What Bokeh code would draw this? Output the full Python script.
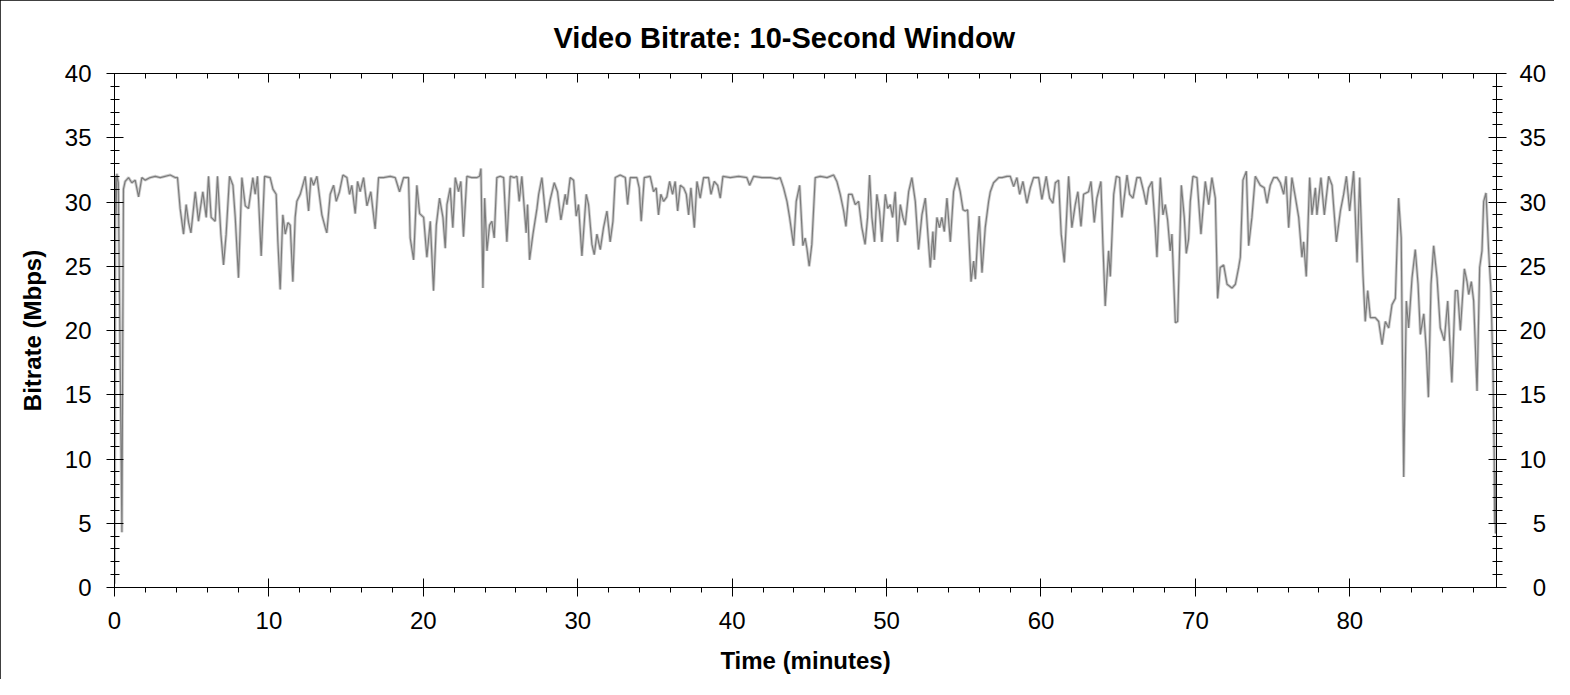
from bokeh.plotting import figure
from bokeh.models import LinearAxis, Range1d, SingleIntervalTicker, PrintfTickFormatter
from bokeh.embed import file_html
from bokeh.resources import INLINE

# Time (minutes) and bitrate (Mbps)
time_min = [0.00, 0.05, 0.10, 0.15, 0.25, 0.48, 0.58, 0.69, 0.91, 1.12, 1.34, 1.56, 1.77, 1.99, 2.31,
            2.64, 2.96, 3.28, 3.61, 3.93, 4.08, 4.25, 4.47, 4.64, 4.80, 4.95, 5.23, 5.44, 5.72, 5.94,
            6.09, 6.26, 6.52, 6.67, 6.89, 7.06, 7.23, 7.45, 7.67, 7.82, 8.03, 8.25, 8.47, 8.68, 8.96,
            9.11, 9.26, 9.50, 9.72, 10.08, 10.26, 10.47, 10.58, 10.73, 10.90, 11.06, 11.23, 11.38, 11.55, 11.70,
            11.81, 12.03, 12.35, 12.57, 12.72, 12.89, 13.11, 13.43, 13.65, 13.75, 13.97, 14.19, 14.36, 14.57, 14.79,
            15.05, 15.22, 15.37, 15.59, 15.74, 15.91, 16.13, 16.35, 16.60, 16.88, 17.10, 17.42, 17.86, 18.18, 18.46,
            18.72, 19.04, 19.15, 19.37, 19.58, 19.76, 20.02, 20.23, 20.45, 20.66, 20.84, 21.05, 21.27, 21.42, 21.53,
            21.74, 21.91, 22.07, 22.28, 22.43, 22.60, 22.82, 23.14, 23.47, 23.64, 23.73, 23.86, 23.97, 24.12, 24.29,
            24.44, 24.59, 24.76, 24.98, 25.20, 25.41, 25.63, 25.89, 26.06, 26.21, 26.38, 26.66, 26.75, 26.88, 27.10,
            27.36, 27.47, 27.68, 27.96, 28.22, 28.48, 28.69, 28.91, 29.19, 29.30, 29.51, 29.73, 29.90, 30.05, 30.27,
            30.55, 30.70, 30.92, 31.07, 31.24, 31.46, 31.67, 31.89, 32.10, 32.28, 32.43, 32.75, 33.08, 33.23, 33.40,
            33.83, 33.98, 34.11, 34.31, 34.69, 34.91, 35.08, 35.23, 35.38, 35.56, 35.77, 35.95, 36.14, 36.31, 36.47,
            36.64, 36.86, 37.03, 37.18, 37.33, 37.55, 37.72, 37.93, 38.15, 38.47, 38.63, 38.84, 39.06, 39.23, 39.40,
            39.88, 40.42, 40.95, 41.13, 41.39, 41.93, 42.47, 42.90, 43.11, 43.33, 43.55, 43.72, 43.98, 44.15, 44.37,
            44.58, 44.73, 44.84, 44.99, 45.16, 45.38, 45.71, 46.14, 46.57, 46.78, 47.00, 47.22, 47.37, 47.54, 47.76,
            47.97, 48.19, 48.40, 48.61, 48.77, 48.90, 49.05, 49.22, 49.37, 49.54, 49.70, 49.92, 50.07, 50.24, 50.39,
            50.56, 50.71, 50.89, 51.06, 51.21, 51.43, 51.64, 51.86, 52.07, 52.29, 52.51, 52.83, 53.00, 53.09, 53.26,
            53.43, 53.58, 53.74, 53.91, 54.13, 54.34, 54.56, 54.77, 54.95, 55.10, 55.25, 55.47, 55.64, 55.75, 55.90,
            56.00, 56.18, 56.39, 56.61, 56.72, 56.93, 57.26, 57.47, 57.80, 58.01, 58.23, 58.44, 58.62, 58.83, 59.09,
            59.31, 59.52, 59.85, 60.06, 60.34, 60.56, 60.77, 60.93, 61.14, 61.31, 61.51, 61.79, 62.00, 62.22, 62.39,
            62.59, 62.76, 63.08, 63.24, 63.45, 63.62, 63.88, 64.01, 64.16, 64.38, 64.49, 64.71, 64.88, 65.09, 65.24,
            65.57, 65.74, 65.96, 66.21, 66.43, 66.65, 66.82, 66.97, 67.19, 67.40, 67.51, 67.73, 67.90, 68.05, 68.20,
            68.37, 68.48, 68.70, 68.85, 69.09, 69.28, 69.41, 69.56, 69.67, 69.84, 70.10, 70.36, 70.64, 70.86, 71.07,
            71.29, 71.44, 71.61, 71.83, 72.05, 72.37, 72.59, 72.80, 72.91, 73.08, 73.30, 73.45, 73.66, 73.88, 74.20,
            74.46, 74.64, 74.85, 75.07, 75.29, 75.50, 75.72, 75.87, 76.04, 76.25, 76.47, 76.69, 76.90, 77.01, 77.18,
            77.40, 77.55, 77.77, 77.87, 78.13, 78.35, 78.63, 78.85, 79.13, 79.39, 79.60, 79.78, 79.99, 80.25, 80.47,
            80.64, 80.85, 81.00, 81.16, 81.33, 81.65, 81.87, 82.09, 82.30, 82.52, 82.73, 82.95, 83.16, 83.33, 83.49,
            83.66, 83.81, 84.03, 84.24, 84.42, 84.57, 84.79, 84.96, 85.09, 85.26, 85.43, 85.65, 85.86, 86.12, 86.34,
            86.61, 86.83, 86.98, 87.16, 87.42, 87.59, 87.70, 87.87, 88.02, 88.24, 88.41, 88.56, 88.67, 88.82, 88.99,
            89.14, 89.27, 89.35, 89.38, 89.41, 89.44]

bitrate_mbps = [0.3, 32.0, 29.0, 32.2, 31.5, 4.3, 31.0, 31.6, 31.9, 31.5, 31.7, 30.4, 31.9, 31.7, 31.9,
                32.0, 31.9, 32.0, 32.1, 31.9, 31.9, 29.5, 27.5, 29.8, 28.4, 27.6, 30.8, 28.5, 30.8, 28.8,
                32.0, 28.8, 28.5, 32.0, 27.5, 25.1, 27.5, 32.0, 31.3, 28.8, 24.1, 31.9, 29.7, 29.5, 31.9,
                30.6, 32.0, 25.8, 32.0, 31.9, 31.0, 30.6, 26.9, 23.2, 29.0, 27.5, 28.4, 28.2, 23.8, 28.8,
                30.05, 30.6, 32.0, 29.3, 31.9, 31.3, 32.0, 29.0, 28.0, 27.6, 30.6, 31.3, 30.05, 30.8, 32.1,
                31.9, 30.6, 31.3, 29.1, 31.6, 30.8, 31.9, 29.7, 30.8, 27.9, 31.9, 31.9, 32.0, 31.9, 30.8,
                31.9, 31.9, 27.2, 25.5, 31.3, 29.1, 28.8, 25.7, 28.5, 23.1, 28.2, 30.3, 28.8, 26.4, 29.8,
                31.1, 28.0, 31.9, 30.8, 31.6, 27.3, 32.0, 31.9, 31.9, 32.0, 32.6, 23.3, 30.3, 26.2, 28.2,
                28.5, 27.2, 31.9, 32.0, 31.9, 26.9, 32.0, 31.9, 32.0, 30.05, 32.0, 27.6, 29.8, 25.5, 27.5,
                29.5, 30.6, 31.9, 28.4, 30.2, 31.5, 30.8, 28.6, 30.6, 29.8, 31.9, 31.7, 28.9, 29.8, 25.8,
                30.6, 29.8, 26.7, 25.9, 27.5, 26.3, 28.0, 29.3, 26.9, 28.5, 31.9, 32.1, 31.9, 29.8, 31.9,
                31.9, 31.1, 28.5, 31.9, 32.0, 30.8, 31.1, 29.0, 30.6, 30.05, 30.4, 31.6, 30.6, 31.6, 29.3,
                31.3, 31.1, 30.6, 29.0, 31.1, 28.0, 31.6, 30.3, 31.9, 31.9, 30.6, 31.6, 31.3, 30.3, 32.0,
                31.9, 32.0, 31.9, 31.3, 32.0, 31.9, 31.9, 31.8, 31.9, 31.1, 30.05, 28.8, 26.6, 30.05, 31.3,
                26.6, 27.2, 26.4, 25.0, 26.7, 31.9, 32.0, 31.9, 32.1, 31.6, 30.6, 29.3, 28.1, 30.6, 30.6,
                29.8, 30.05, 28.0, 26.7, 28.8, 32.1, 28.8, 26.9, 30.6, 29.3, 26.9, 30.6, 29.5, 29.8, 28.8,
                30.8, 26.9, 29.8, 28.8, 28.2, 30.8, 31.9, 30.05, 26.3, 29.0, 30.3, 24.9, 27.7, 25.5, 28.8,
                28.0, 28.8, 27.7, 30.3, 26.9, 30.8, 31.9, 30.8, 29.4, 29.3, 29.4, 23.8, 25.4, 24.0, 27.2,
                28.9, 24.5, 28.0, 30.05, 30.8, 31.5, 31.9, 31.9, 32.0, 32.0, 31.2, 31.9, 30.6, 31.6, 29.9,
                31.1, 31.9, 31.9, 30.2, 32.0, 30.3, 29.9, 31.5, 31.7, 27.5, 25.3, 32.0, 28.0, 29.8, 30.8,
                28.1, 30.6, 30.8, 31.6, 28.4, 30.3, 31.6, 26.7, 21.9, 26.2, 24.2, 30.6, 32.0, 31.9, 28.8,
                32.1, 30.6, 30.3, 31.9, 31.9, 30.8, 29.8, 31.1, 31.6, 28.0, 25.7, 31.9, 29.0, 29.8, 28.6,
                26.2, 27.5, 20.6, 20.7, 31.3, 28.8, 26.0, 27.1, 30.05, 32.0, 31.9, 27.5, 31.6, 29.8, 31.9,
                30.3, 22.5, 24.9, 25.1, 23.6, 23.3, 23.6, 24.9, 25.7, 31.7, 32.4, 26.6, 28.8, 32.0, 31.3,
                31.1, 29.9, 31.3, 31.9, 31.9, 31.5, 30.6, 32.0, 28.0, 31.9, 30.4, 28.8, 25.7, 26.9, 24.2,
                31.9, 29.0, 31.1, 29.0, 31.9, 29.0, 32.0, 31.3, 26.9, 29.3, 30.6, 32.0, 29.3, 32.4, 25.3,
                31.9, 24.4, 20.7, 23.1, 21.0, 21.0, 20.7, 18.9, 20.7, 20.2, 22.0, 22.5, 30.3, 27.2, 8.6,
                22.3, 20.2, 24.1, 26.3, 23.6, 19.7, 21.3, 18.4, 14.8, 23.6, 26.6, 24.1, 20.2, 19.2, 22.3,
                15.96, 23.1, 23.1, 20.0, 24.8, 23.8, 22.8, 23.8, 22.3, 15.3, 24.9, 26.2, 30.05, 30.7, 26.2,
                23.1, 17.1, 10.5, 5.0, 9.0, 4.2]

x_major_step = 10
y_major_step = 5
title_text = "Video Bitrate: 10-Second Window"
x_label = "Time (minutes)"
y_label = "Bitrate (Mbps)"

FONT = "Liberation Sans"

p = figure(width=1554, height=679, output_backend="svg", toolbar_location=None,
           x_range=Range1d(0, 89.5), y_range=Range1d(0, 40),
           min_border_left=114, min_border_right=58, min_border_top=72, min_border_bottom=92,
           title=title_text)
p.styles = {"outline": "1px solid black", "outline-offset": "-1px"}

p.title.text_font = FONT
p.title.text_font_size = "29px"
p.title.text_font_style = "bold"
p.title.text_color = "black"
p.title.align = "left"
p.title.offset = 439
p.title.standoff = 39

p.grid.visible = False
p.outline_line_color = "black"
p.outline_line_width = 1
p.background_fill_color = "white"
p.border_fill_color = "white"

xt = SingleIntervalTicker(interval=x_major_step, num_minor_ticks=5)
yt = SingleIntervalTicker(interval=y_major_step, num_minor_ticks=5)


def style_axis(ax, tin, tout, mtin, mtout):
    ax.axis_line_color = "black"
    ax.major_tick_line_color = "black"
    ax.minor_tick_line_color = "black"
    ax.major_tick_in = tin
    ax.major_tick_out = tout
    ax.minor_tick_in = mtin
    ax.minor_tick_out = mtout
    ax.major_label_text_font = FONT
    ax.major_label_text_font_size = "24px"
    ax.major_label_text_color = "black"
    ax.axis_label_text_font = FONT
    ax.axis_label_text_font_size = "24px"
    ax.axis_label_text_font_style = "bold"
    ax.axis_label_text_color = "black"


bx = p.xaxis[0]
bx.ticker = xt
bx.axis_label = x_label
style_axis(bx, 9, 9, 0, 5)
bx.major_label_standoff = 15
bx.axis_label_standoff = 15

ly = p.yaxis[0]
ly.ticker = yt
ly.axis_label = y_label
style_axis(ly, 9, 8, 5, 4)
ly.major_label_standoff = 15
ly.axis_label_standoff = 16

ry = LinearAxis(ticker=SingleIntervalTicker(interval=y_major_step, num_minor_ticks=5))
style_axis(ry, 8, 10, 4, 6)
ry.major_label_standoff = 13
ry.major_label_overrides = {0: "\u20070", 5: "\u20075"}
p.add_layout(ry, "right")

tx = LinearAxis(ticker=SingleIntervalTicker(interval=x_major_step, num_minor_ticks=5),
                formatter=PrintfTickFormatter(format=""))
style_axis(tx, 9, 0, 5, 0)
tx.major_label_standoff = 0
p.add_layout(tx, "above")

p.line(time_min, bitrate_mbps, line_color="#cdcdcd", line_width=3.0)
p.line(time_min, bitrate_mbps, line_color="#7c7c7c", line_width=1.2)

open("out.html", "w").write(file_html(p, INLINE))
